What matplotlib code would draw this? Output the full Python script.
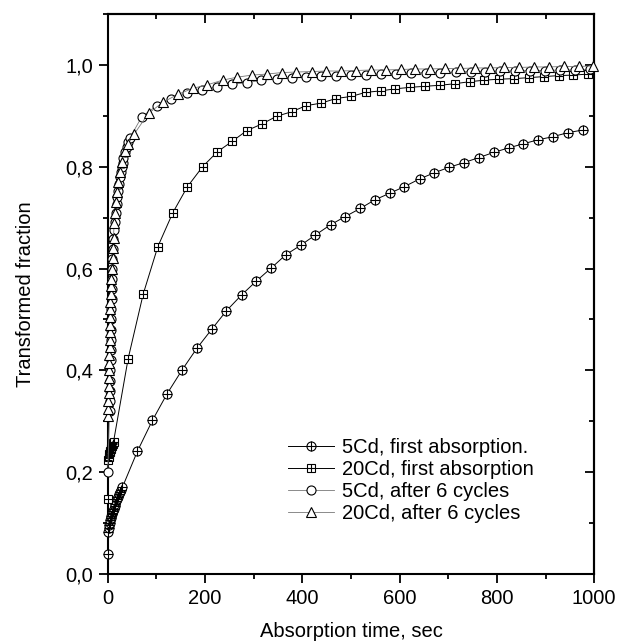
import matplotlib
matplotlib.use("Agg")
import matplotlib.pyplot as plt
from matplotlib.ticker import MultipleLocator, FuncFormatter
from matplotlib.lines import Line2D

plt.rcParams['font.family'] = ['Liberation Sans', 'DejaVu Sans']

# 5Cd, first absorption
t_5cd_first = [0, 1, 2, 3, 4, 5, 6, 7, 8, 9, 10, 12, 14, 16, 18, 20, 22, 24, 26, 28, 30,
               61, 92, 122, 153, 183, 214, 244, 275, 305, 336, 366, 397, 427, 458, 488,
               519, 549, 580, 610, 641, 671, 702, 732, 763, 793, 824, 854, 885, 915, 946, 976]
f_5cd_first = [0.040, 0.083, 0.090, 0.096, 0.101, 0.106, 0.110, 0.114, 0.117, 0.120, 0.123,
               0.128, 0.133, 0.138, 0.143, 0.148, 0.152, 0.157, 0.161, 0.165, 0.170,
               0.241, 0.302, 0.354, 0.401, 0.443, 0.481, 0.517, 0.548, 0.575, 0.601,
               0.627, 0.646, 0.666, 0.686, 0.702, 0.718, 0.735, 0.748, 0.761, 0.776,
               0.788, 0.799, 0.808, 0.818, 0.828, 0.837, 0.845, 0.853, 0.859, 0.867, 0.872]

# 20Cd, first absorption
t_20cd_first = [0, 1, 2, 3, 4, 5, 6, 7, 8, 9, 10, 11, 12,
                42, 73, 103, 134, 164, 195, 225, 256, 286, 317, 347, 378, 408, 439, 469,
                500, 530, 561, 591, 622, 652, 683, 713, 744, 774, 805, 835, 866, 896, 927, 957, 988]
f_20cd_first = [0.148, 0.224, 0.230, 0.235, 0.239, 0.242, 0.245, 0.248, 0.251, 0.254, 0.256, 0.258, 0.260,
                0.423, 0.550, 0.643, 0.710, 0.761, 0.800, 0.829, 0.850, 0.871, 0.884,
                0.899, 0.908, 0.920, 0.925, 0.934, 0.938, 0.946, 0.949, 0.953, 0.956,
                0.958, 0.960, 0.963, 0.967, 0.970, 0.972, 0.973, 0.975, 0.977, 0.979, 0.980, 0.982]

# 5Cd, after 6 cycles
t_5cd_6 = [0, 4, 4.5, 5, 5.3, 5.6, 6, 6.3, 6.6, 6.9, 7.2, 7.5, 7.8, 8.1, 8.4, 8.7, 9.4, 10.3,
           11.6, 12.9, 15, 17, 18.5, 19.8, 21.8, 23.9, 25.3, 26.7, 28.8, 30.8, 32.1, 35.5, 39,
           42.4, 45.8, 70, 101, 131, 162, 193, 224, 255, 286, 316, 347, 378, 408, 439, 470, 500,
           531, 562, 592, 623, 654, 684, 715, 746, 776, 807, 838, 868, 899, 930, 960, 991]
f_5cd_6 = [0.20, 0.32, 0.34, 0.36, 0.38, 0.40, 0.42, 0.44, 0.46, 0.48, 0.50, 0.52, 0.54, 0.56,
           0.58, 0.60, 0.619, 0.639, 0.658, 0.675, 0.691, 0.710, 0.727, 0.740, 0.753, 0.766,
           0.779, 0.789, 0.799, 0.808, 0.818, 0.828, 0.838, 0.848, 0.857,
           0.898, 0.920, 0.933, 0.944, 0.950, 0.957, 0.962, 0.965, 0.970, 0.972,
           0.974, 0.976, 0.978, 0.979, 0.980, 0.981, 0.982, 0.983, 0.984, 0.985,
           0.985, 0.986, 0.987, 0.987, 0.988, 0.988, 0.989, 0.989, 0.990, 0.990, 0.991]

# 20Cd, after 6 cycles
t_20cd_6 = [1, 1.3, 1.6, 1.9, 2.2, 2.5, 2.8, 3.1, 3.4, 3.7, 4.0, 4.3, 4.6, 4.9, 5.2, 5.5, 5.8,
            6.1, 6.4, 8, 10, 11, 12, 13, 15, 17, 19, 22, 25, 29, 35, 42,
            55, 84, 114, 144, 175, 205, 236, 266, 297, 327, 358, 388, 419, 449, 480, 510,
            541, 571, 602, 632, 663, 693, 724, 754, 785, 815, 846, 876, 907, 937, 968, 998]
f_20cd_6 = [0.31, 0.325, 0.34, 0.355, 0.37, 0.385, 0.40, 0.415, 0.43, 0.445, 0.46, 0.475,
            0.49, 0.505, 0.52, 0.535, 0.55, 0.565, 0.58, 0.60, 0.62, 0.64, 0.66, 0.69, 0.71,
            0.73, 0.75, 0.77, 0.79, 0.81, 0.83, 0.845,
            0.865, 0.905, 0.927, 0.942, 0.954, 0.961, 0.970, 0.976, 0.980, 0.982,
            0.985, 0.986, 0.987, 0.988, 0.988, 0.989, 0.990, 0.990, 0.991, 0.992,
            0.992, 0.993, 0.993, 0.994, 0.994, 0.995, 0.995, 0.996, 0.996, 0.997, 0.997, 0.998]

labels = ['5Cd, first absorption.', '20Cd, first absorption',
          '5Cd, after 6 cycles', '20Cd, after 6 cycles']

fig = plt.figure(figsize=(6.19, 6.42), dpi=100)
ax = fig.add_axes([0.174, 0.1059, 0.786, 0.8723])

fs = 14.5
mew = 0.8
kw = dict(clip_on=False, zorder=3)

# 5Cd first: circle with a cross
l1, = ax.plot(t_5cd_first, f_5cd_first, '-', color='black', lw=0.7, marker='o', ms=6.5,
              mfc='white', mec='black', mew=mew, **kw)
l1p, = ax.plot(t_5cd_first, f_5cd_first, ls='none', marker='+', ms=6.5, mec='black', mew=mew, **kw)

# 20Cd first: square with a cross
l2, = ax.plot(t_20cd_first, f_20cd_first, '-', color='black', lw=0.7, marker='s', ms=5.8,
              mfc='white', mec='black', mew=mew, **kw)
l2p, = ax.plot(t_20cd_first, f_20cd_first, ls='none', marker='+', ms=5.8, mec='black', mew=mew, **kw)

# after 6 cycles
l3, = ax.plot(t_5cd_6, f_5cd_6, '-', color='#777777', lw=0.6, marker='o', ms=6.5,
              mfc='white', mec='black', mew=mew, **kw)
l4, = ax.plot(t_20cd_6, f_20cd_6, '-', color='#777777', lw=0.6, marker='^', ms=7.5,
              mfc='white', mec='black', mew=mew, **kw)

ax.set_xlim(0, 1000)
ax.set_ylim(0, 1.1)
ax.xaxis.set_major_locator(MultipleLocator(200))
ax.xaxis.set_minor_locator(MultipleLocator(100))
ax.yaxis.set_major_locator(MultipleLocator(0.2))
ax.yaxis.set_minor_locator(MultipleLocator(0.1))
ax.yaxis.set_major_formatter(FuncFormatter(lambda v, p: f"{v:.1f}".replace('.', ',')))

for s in ax.spines.values():
    s.set_linewidth(1.5)
ax.tick_params(which='major', direction='out', length=6.5, width=1.3, labelsize=fs, pad=4)
ax.tick_params(which='minor', direction='out', length=3.5, width=1.3)

# mirrored ticks pointing inwards
top = ax.secondary_xaxis('top')
top.xaxis.set_major_locator(MultipleLocator(200))
top.xaxis.set_minor_locator(MultipleLocator(100))
top.tick_params(which='major', direction='in', length=6.5, width=1.3, labeltop=False)
top.tick_params(which='minor', direction='in', length=3.5, width=1.3)
right = ax.secondary_yaxis('right')
right.yaxis.set_major_locator(MultipleLocator(0.2))
right.yaxis.set_minor_locator(MultipleLocator(0.1))
right.tick_params(which='major', direction='in', length=6.5, width=1.3, labelright=False)
right.tick_params(which='minor', direction='in', length=3.5, width=1.3)
for sec in (top, right):
    for s in sec.spines.values():
        s.set_linewidth(1.5)

ax.set_xlabel('Absorption time, sec', fontsize=fs)
ax.set_ylabel('Transformed fraction', fontsize=fs)
ax.xaxis.set_label_coords(0.5, -0.085)
ax.yaxis.set_label_coords(-0.15, 0.5)

h3 = Line2D([], [], color='#777777', lw=0.6, marker='o', ms=6.5, mfc='white', mec='black', mew=mew)
h4 = Line2D([], [], color='#777777', lw=0.6, marker='^', ms=7.5, mfc='white', mec='black', mew=mew)
ax.legend([(l1, l1p), (l2, l2p), h3, h4], labels, loc='upper left',
          bbox_to_anchor=(0.37, 0.243), frameon=False, fontsize=fs, handlelength=2.3,
          handletextpad=0.4, labelspacing=0.15, borderpad=0, borderaxespad=0, numpoints=1)

fig.savefig('out.png', dpi=100)
